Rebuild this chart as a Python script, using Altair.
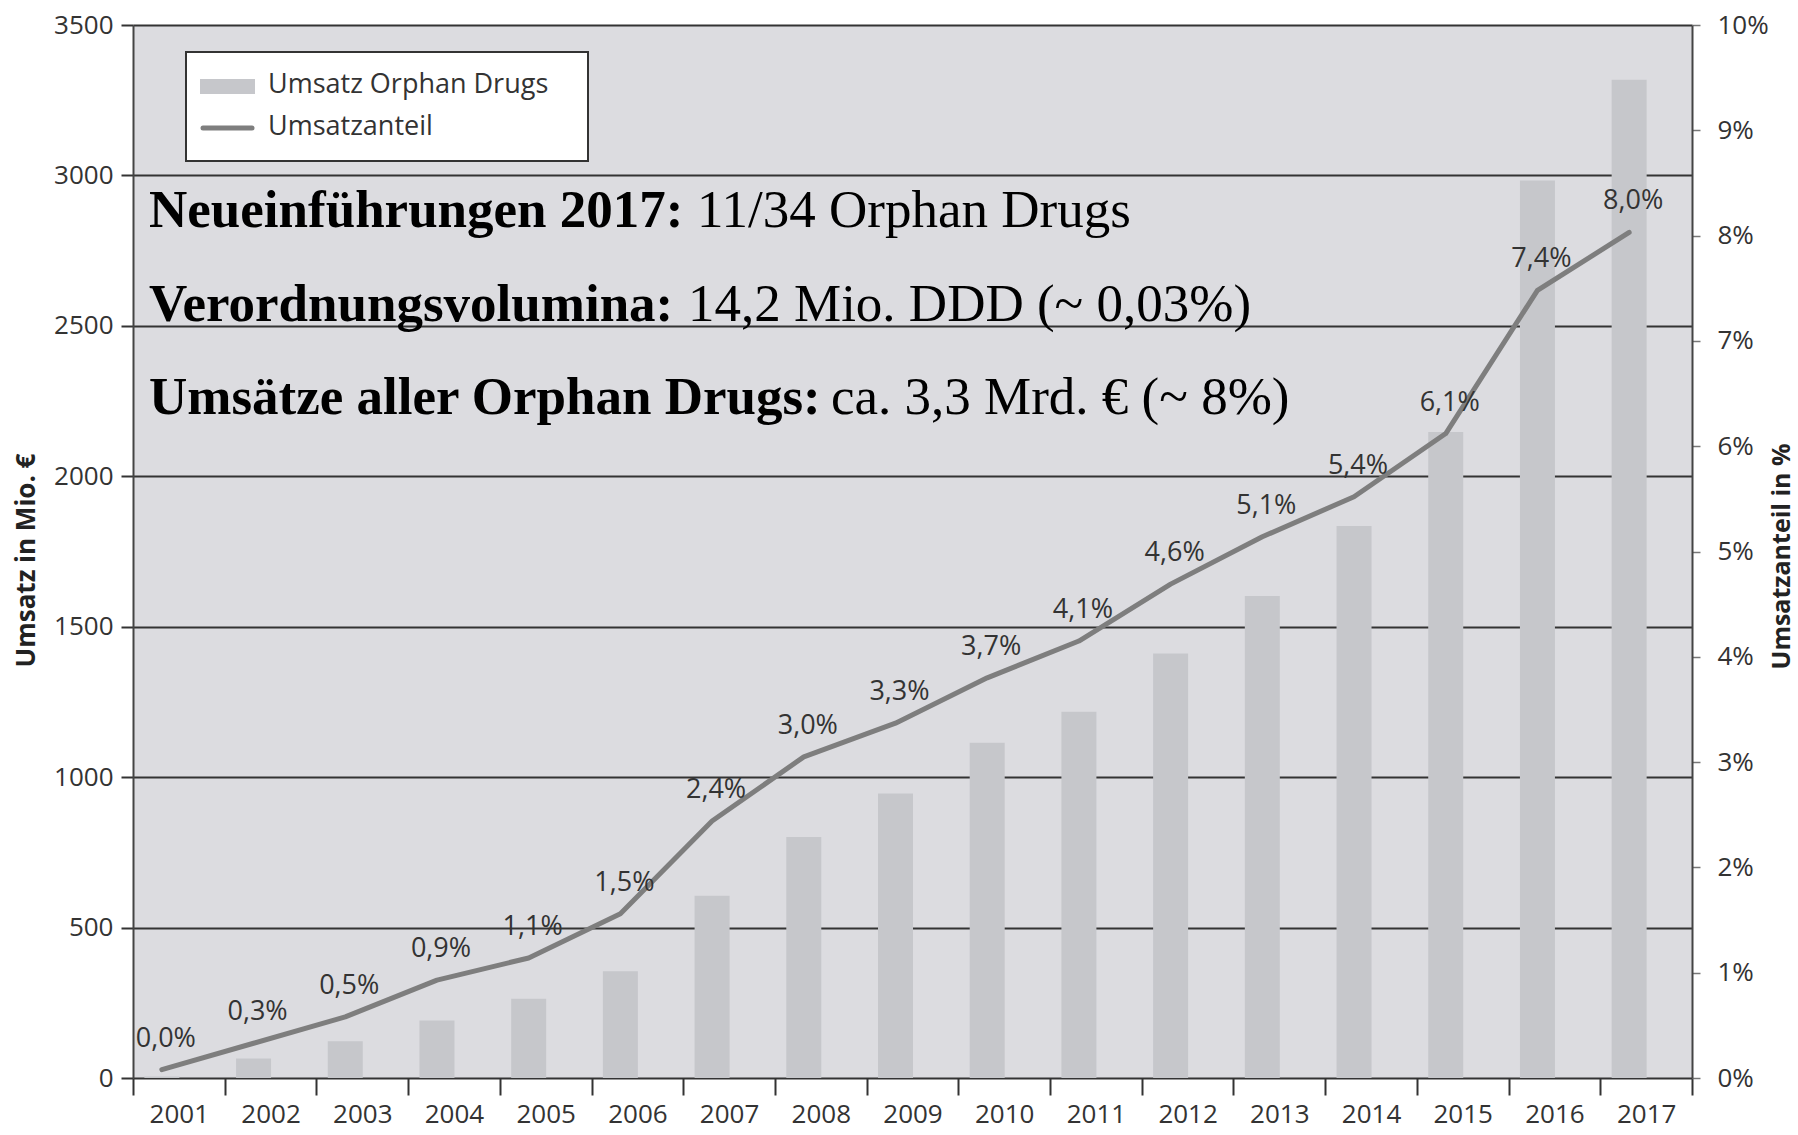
import altair as alt
import pandas as pd

# ---------------- data ----------------
years = ["2001", "2002", "2003", "2004", "2005", "2006", "2007", "2008", "2009",
         "2010", "2011", "2012", "2013", "2014", "2015", "2016", "2017"]
umsatz = [5, 65, 122, 191, 263, 355, 606, 801, 946, 1114, 1217, 1411, 1602,
          1835, 2147, 2983, 3318]
anteil = [0.08, 0.33, 0.58, 0.93, 1.14, 1.56, 2.44, 3.05, 3.37, 3.80, 4.15,
          4.69, 5.14, 5.52, 6.12, 7.48, 8.03]
anteil_labels = ["0,0%", "0,3%", "0,5%", "0,9%", "1,1%", "1,5%", "2,4%", "3,0%",
                 "3,3%", "3,7%", "4,1%", "4,6%", "5,1%", "5,4%", "6,1%", "7,4%",
                 "8,0%"]
left_ticks = [0, 500, 1000, 1500, 2000, 2500, 3000, 3500]
right_ticks = [0, 1, 2, 3, 4, 5, 6, 7, 8, 9, 10]
legend_labels = ["Umsatz Orphan Drugs", "Umsatzanteil"]
annot_bold = ["Neueinführungen 2017:", "Verordnungsvolumina:",
              "Umsätze aller Orphan Drugs:"]
annot_regular = ["11/34 Orphan Drugs", "14,2 Mio. DDD (~ 0,03%)",
                 "ca. 3,3 Mrd. € (~ 8%)"]

df = pd.DataFrame({"Jahr": years, "Umsatz": umsatz, "Anteil": anteil,
                   "Label": anteil_labels})

# ---------------- styles ----------------
W, H = 1559, 1053
BG = "#dcdce0"
BAR = "#c6c7cb"
LINE = "#7e7e7e"
DARK = "#333333"
SANS = "Open Sans"
SERIF = "Liberation Serif"
OFF = -17

x_enc = alt.X("Jahr:O", sort=years,
              scale=alt.Scale(paddingInner=0, paddingOuter=0),
              axis=alt.Axis(title=None, domain=False, tickBand="extent",
                            tickSize=17, tickWidth=2, tickColor=DARK,
                            labelAngle=0, labelPadding=6, labelFontSize=26,
                            labelColor=DARK, labelFont=SANS))

bars = alt.Chart(df).mark_bar(width=35, xOffset=OFF, color=BAR).encode(
    x=x_enc,
    y=alt.Y("Umsatz:Q",
            scale=alt.Scale(domain=[0, 3500], nice=False),
            axis=alt.Axis(title="Umsatz in Mio. €", orient="left",
                          values=left_ticks, format="d", grid=True,
                          gridColor=DARK, gridWidth=2, domain=True,
                          domainColor="#444", domainWidth=2, tickSize=12,
                          tickWidth=2, tickColor=DARK, labelPadding=8,
                          labelFontSize=26, labelColor=DARK, labelFont=SANS,
                          titleFont=SANS, titleFontSize=26,
                          titleFontWeight="bold", titleColor="#222",
                          titleAngle=270, titleAlign="center",
                          titleBaseline="middle", titleX=-107, titleY=535)),
)

y_right = alt.Y("Anteil:Q",
                scale=alt.Scale(domain=[0, 10], nice=False),
                axis=alt.Axis(title="Umsatzanteil in %", orient="right",
                              values=right_ticks, grid=False,
                              labelExpr="datum.value + '%'",
                              domain=True, domainColor="#444", domainWidth=2,
                              tickSize=8, tickWidth=1.5, tickColor="#777",
                              labelPadding=17, labelFontSize=26,
                              labelColor=DARK, labelFont=SANS,
                              titleFont=SANS, titleFontSize=25,
                              titleFontWeight="bold", titleColor="#222",
                              titleAngle=270, titleAlign="center",
                              titleBaseline="middle", titleX=89, titleY=531))

line = alt.Chart(df).mark_line(color=LINE, strokeWidth=5, interpolate="linear",
                               xOffset=OFF, strokeCap="round",
                               strokeJoin="round").encode(
    x=x_enc, y=y_right)

labels = alt.Chart(df).mark_text(xOffset=OFF, dx=4, dy=-31, font=SANS,
                                 fontSize=27, color=DARK).encode(
    x=x_enc, y=y_right, text="Label:N")

share = alt.layer(line, labels)

one = pd.DataFrame({"k": [0]})

leg_box = alt.Chart(one).mark_rect(fill="white", stroke=DARK, strokeWidth=2).encode(
    x=alt.value(53), x2=alt.value(455), y=alt.value(27), y2=alt.value(136))
leg_bar = alt.Chart(one).mark_rect(fill=BAR).encode(
    x=alt.value(67), x2=alt.value(122), y=alt.value(54), y2=alt.value(69))
leg_line = alt.Chart(one).mark_rule(color=LINE, strokeWidth=5, strokeCap="round").encode(
    x=alt.value(70), x2=alt.value(119), y=alt.value(103))
leg_t1 = alt.Chart(one).mark_text(align="left", baseline="middle", font=SANS,
                                  fontSize=27, color=DARK).encode(
    x=alt.value(135), y=alt.value(60), text=alt.value(legend_labels[0]))
leg_t2 = alt.Chart(one).mark_text(align="left", baseline="middle", font=SANS,
                                  fontSize=27, color=DARK).encode(
    x=alt.value(135), y=alt.value(102), text=alt.value(legend_labels[1]))

ann_y = [202, 296, 389]
ann_x2 = [564, 555, 698]
ann_layers = []
for i in range(3):
    ann_layers.append(alt.Chart(one).mark_text(
        align="left", baseline="alphabetic", font=SERIF, fontSize=53,
        fontWeight="bold", color="black").encode(
        x=alt.value(16), y=alt.value(ann_y[i]), text=alt.value(annot_bold[i])))
    ann_layers.append(alt.Chart(one).mark_text(
        align="left", baseline="alphabetic", font=SERIF, fontSize=53,
        fontWeight="normal", color="black").encode(
        x=alt.value(ann_x2[i]), y=alt.value(ann_y[i]),
        text=alt.value(annot_regular[i])))

chart = alt.layer(bars, share, leg_box, leg_bar, leg_line, leg_t1, leg_t2,
                  *ann_layers).resolve_scale(y="independent").properties(
    width=W, height=H,
    padding={"left": 133, "top": 25, "right": 106, "bottom": 57},
    autosize=alt.AutoSizeParams(type="none"),
    background="white",
).configure_view(fill=BG, stroke=None)

chart.save("out.html", embed_options={"renderer": "svg", "actions": False})
